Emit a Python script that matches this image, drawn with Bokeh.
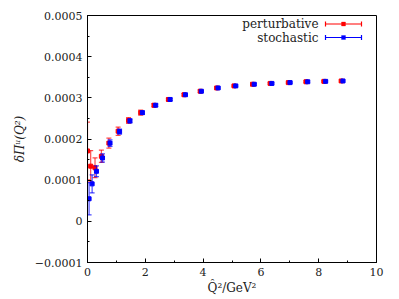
from bokeh.plotting import figure
from bokeh.embed import file_html
from bokeh.resources import INLINE
from bokeh.models import (ColumnDataSource, CustomJSTickFormatter, SingleIntervalTicker,
                          Label, Arrow, TeeHead, BoxAnnotation, Range1d)

# ---- data ----
q2_pert = [0.0, 0.11, 0.26, 0.48, 0.74, 1.06, 1.42, 1.84, 2.30, 2.80, 3.34, 3.90, 4.47, 5.07,
           5.71, 6.32, 6.95, 7.56, 8.18, 8.78]
pi_pert = [1.71e-4, 1.34e-4, 1.30e-4, 1.58e-4, 1.90e-4, 2.19e-4, 2.45e-4, 2.64e-4, 2.82e-4,
           2.96e-4, 3.075e-4, 3.16e-4, 3.24e-4, 3.29e-4, 3.33e-4, 3.35e-4, 3.37e-4, 3.39e-4,
           3.40e-4, 3.41e-4]
err_pert = [0.70e-4, 0.38e-4, 0.24e-4, 0.15e-4, 0.12e-4, 0.10e-4, 0.07e-4, 0.06e-4, 0.04e-4,
            0.03e-4, 0.03e-4, 0.03e-4, 0.02e-4, 0.02e-4, 0.02e-4, 0.02e-4, 0.02e-4, 0.02e-4,
            0.02e-4, 0.02e-4]

q2_stoch = [0.055, 0.16, 0.31, 0.52, 0.78, 1.11, 1.47, 1.90, 2.36, 2.86, 3.39, 3.94, 4.52, 5.13,
            5.77, 6.38, 7.01, 7.62, 8.24, 8.84]
pi_stoch = [0.548e-4, 0.91e-4, 1.215e-4, 1.54e-4, 1.90e-4, 2.18e-4, 2.44e-4, 2.64e-4, 2.82e-4,
            2.96e-4, 3.075e-4, 3.16e-4, 3.24e-4, 3.29e-4, 3.33e-4, 3.35e-4, 3.37e-4, 3.39e-4,
            3.40e-4, 3.41e-4]
err_stoch = [0.39e-4, 0.22e-4, 0.13e-4, 0.10e-4, 0.08e-4, 0.06e-4, 0.05e-4, 0.04e-4, 0.03e-4,
             0.03e-4, 0.02e-4, 0.02e-4, 0.02e-4, 0.02e-4, 0.02e-4, 0.02e-4, 0.02e-4, 0.02e-4,
             0.02e-4, 0.02e-4]

labels = ["perturbative", "stochastic"]
colors = ["#ff0000", "#0000ff"]

FONT = "'DejaVu Serif', serif"

p = figure(width=391, height=297, output_backend="svg", toolbar_location=None,
           x_range=Range1d(0, 10), y_range=Range1d(-0.0001, 0.0005),
           min_border_left=87, min_border_right=15, min_border_top=15, min_border_bottom=34)
p.grid.visible = False
p.outline_line_color = "black"
p.outline_line_width = 1
p.background_fill_color = "white"
p.border_fill_color = "white"

for xs, ys, es, col in [(q2_pert, pi_pert, err_pert, colors[0]),
                        (q2_stoch, pi_stoch, err_stoch, colors[1])]:
    src = ColumnDataSource(dict(x=xs, y=ys,
                                lo=[a - b for a, b in zip(ys, es)],
                                hi=[a + b for a, b in zip(ys, es)]))
    p.segment(x0="x", y0="lo", x1="x", y1="hi", source=src, line_color=col, line_width=1.2,
              line_alpha=0.7)
    p.scatter(x="x", y="lo", source=src, marker="dash", size=5, line_color=col, line_width=1.2,
              line_alpha=0.7)
    p.scatter(x="x", y="hi", source=src, marker="dash", size=5, line_color=col, line_width=1.2,
              line_alpha=0.7)
    p.scatter(x="x", y="y", source=src, marker="square", size=4, fill_color=col, line_color=col)

# axes
p.xaxis.ticker = SingleIntervalTicker(interval=2, num_minor_ticks=2)
p.yaxis.ticker = SingleIntervalTicker(interval=0.0001, num_minor_ticks=2)
p.yaxis.formatter = CustomJSTickFormatter(code="""
    if (Math.abs(tick) < 1e-12) return "0";
    return tick.toFixed(4).replace("-", "\\u2212");
""")
for ax in (p.xaxis, p.yaxis):
    ax.major_tick_in = 4
    ax.major_tick_out = 0
    ax.minor_tick_in = 2
    ax.minor_tick_out = 0
    ax.axis_line_color = "black"
    ax.major_tick_line_color = "black"
    ax.minor_tick_line_color = "black"
    ax.major_label_text_font = FONT
    ax.major_label_text_font_size = "11px"
    ax.major_label_text_color = "#222222"
    ax.axis_label_text_font = FONT
    ax.axis_label_text_font_size = "12px"
    ax.axis_label_text_font_style = "normal"
    ax.axis_label_text_color = "#222222"
p.xaxis.major_label_standoff = 5
p.yaxis.major_label_standoff = 5
p.xaxis.axis_label = "Q\u0302\u00b2/GeV\u00b2"
p.xaxis.axis_label_standoff = 2
p.yaxis.axis_label = "\u03b4\u03a0\u1d58(Q\u00b2)"
p.yaxis.axis_label_text_font_style = "italic"
p.yaxis.axis_label_standoff = 5

# legend (label left, error-bar glyph right), positioned in screen units from frame bottom-left
rows = [238.5, 225]
for lab, col, yy in zip(labels, colors, rows):
    p.add_layout(Label(x=231, y=yy, x_units="screen", y_units="screen", text=lab,
                       text_align="right", text_baseline="middle", text_font=FONT,
                       text_font_size="12px", text_color="#222222"))
    p.add_layout(Arrow(x_start=238, x_end=274, y_start=yy, y_end=yy,
                       start_units="screen", end_units="screen", line_color=col, line_width=1.2,
                       start=TeeHead(size=5, line_color=col, line_width=1.2),
                       end=TeeHead(size=5, line_color=col, line_width=1.2)))
    p.add_layout(BoxAnnotation(left=254, right=258, bottom=yy - 2, top=yy + 2,
                               left_units="screen", right_units="screen",
                               bottom_units="screen", top_units="screen",
                               fill_color=col, fill_alpha=1.0, line_color=col))

open("out.html", "w").write(file_html(p, INLINE))
